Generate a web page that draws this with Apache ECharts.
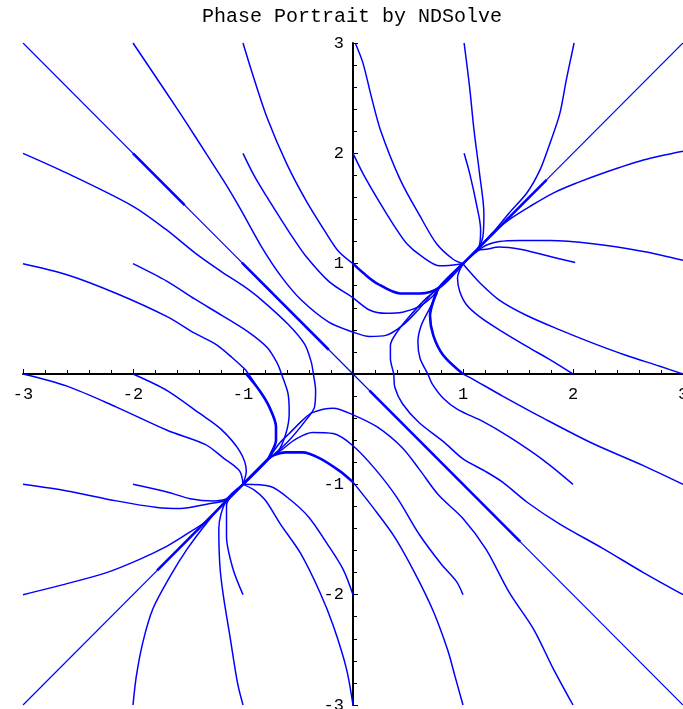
<!DOCTYPE html>
<html>
<head>
<meta charset="utf-8">
<script src="https://cdn.jsdelivr.net/npm/echarts@6/dist/echarts.min.js"></script>
<style>html,body{margin:0;padding:0;background:#fff;}#chart{width:683px;height:709px;}</style>
</head>
<body>
<div id="chart"></div>
<script>
// ---- data (x, y pairs along each trajectory) ----
const titleText = 'Phase Portrait by NDSolve';
const axisTicks = [-3, -2, -1, 0, 1, 2, 3];

// first quadrant trajectories into (1,1)
const c_0_3 = [[0.02,3],[0.09,2.82],[0.17,2.5],[0.25,2.21],[0.43,1.76],[0.61,1.43],[0.76,1.18],[0.91,1.04],[1,1]];
const c_0_2 = [[0,2],[0.1,1.8],[0.245,1.55],[0.37,1.35],[0.49,1.18],[0.62,1.07],[0.79,0.98],[1,1]];
const c_0_1 = [[0,1],[0.1,0.91],[0.22,0.82],[0.43,0.73],[0.61,0.73],[0.78,0.78],[1,1]];
const c_1_3 = [[1.01,3],[1.06,2.6],[1.1,2.21],[1.15,1.82],[1.19,1.45],[1.18,1.24],[1.14,1.14],[1,1]];
const c_1_2 = [[1.01,2],[1.06,1.82],[1.12,1.55],[1.16,1.31],[1.15,1.17],[1,1]];
const c_2_3 = [[2.01,3],[1.94,2.67],[1.88,2.36],[1.79,2.09],[1.7,1.85],[1.58,1.64],[1.42,1.46],[1.27,1.28],[1.14,1.14],[1,1]];
const c_3_3 = [[3,3],[1,1]];
const c_3_2 = [[3,2.02],[2.64,1.94],[2.27,1.82],[2.03,1.73],[1.82,1.64],[1.61,1.52],[1.42,1.4],[1.27,1.28],[1.14,1.14],[1,1]];
const c_3_1 = [[3,1.03],[2.64,1.11],[2.18,1.18],[1.79,1.21],[1.52,1.21],[1.33,1.2],[1.18,1.15],[1,1]];
const c_2_1 = [[2.02,1.01],[1.73,1.08],[1.52,1.13],[1.33,1.15],[1.21,1.13],[1.14,1.12],[1,1]];
const c_3_0 = [[3,0],[2.79,0.07],[2.48,0.17],[2.18,0.28],[1.88,0.4],[1.58,0.53],[1.33,0.67],[1.15,0.83],[1.05,0.94],[1,1]];
const c_2_0 = [[2,0],[1.79,0.13],[1.58,0.25],[1.33,0.4],[1.15,0.52],[1.03,0.63],[0.97,0.75],[0.95,0.87],[1,1]];
const c_1_0 = [[1,0],[0.82,0.17],[0.73,0.35],[0.7,0.53],[0.73,0.66],[0.78,0.78],[1,1]];
const diagUpThick = [[1.76,1.76],[1,1]];

// second quadrant starts
const c_m1_3 = [[-1,3],[-0.92,2.74],[-0.78,2.32],[-0.6,1.9],[-0.42,1.56],[-0.24,1.27],[-0.13,1.11],[0,1]];
const c_m1_2 = [[-1,2],[-0.9,1.8],[-0.78,1.6],[-0.66,1.41],[-0.55,1.24],[-0.43,1.07],[-0.22,0.84],[0,0.69],[0.15,0.58],[0.3,0.55],[0.45,0.56],[0.6,0.61],[0.72,0.7],[0.78,0.78],[1,1]];
const c_m2_3 = [[-2,3],[-1.69,2.54],[-1.51,2.27],[-1.33,1.99],[-1.15,1.71],[-1.02,1.49],[-0.83,1.15],[-0.65,0.88],[-0.47,0.67],[-0.22,0.47],[0,0.38],[0.15,0.34],[0.3,0.35],[0.45,0.44],[0.6,0.59],[0.73,0.74],[0.78,0.78],[1,1]];
const c_m3_2 = [[-3,2],[-2.6,1.82],[-2,1.52],[-1.7,1.31],[-1.44,1.1],[-1.2,0.93],[-1,0.8],[-0.83,0.67],[-0.59,0.45],[-0.44,0.27],[-0.38,0.11],[-0.36,0],[-0.34,-0.15],[-0.35,-0.3],[-0.43,-0.42],[-0.58,-0.6],[-0.73,-0.74],[-0.78,-0.78],[-1,-1]];
const c_m3_1 = [[-3,1],[-2.6,0.9],[-2.15,0.73],[-1.69,0.52],[-1.44,0.37],[-1.25,0.27],[-1.1,0.15],[-0.98,0.04],[-0.95,0],[-0.85,-0.15],[-0.76,-0.3],[-0.7,-0.48],[-0.7,-0.6],[-0.75,-0.73],[-0.78,-0.78],[-1,-1]];
const c_m1_0 = [[-0.97,0],[-0.85,-0.15],[-0.76,-0.3],[-0.7,-0.48],[-0.7,-0.6],[-0.75,-0.73],[-0.78,-0.78],[-1,-1]];
const c_m2_1 = [[-2,1],[-1.69,0.84],[-1.44,0.68],[-1.19,0.53],[-0.95,0.38],[-0.78,0.24],[-0.69,0.1],[-0.65,0],[-0.59,-0.18],[-0.58,-0.36],[-0.61,-0.54],[-0.68,-0.7],[-0.78,-0.78],[-1,-1]];
const antiDiag = [[-3,3],[0,0],[3,-3]];
const antiThickA = [[-2,2],[-1.53,1.53]];
const antiThickB = [[-1.01,1.01],[-0.22,0.22]];
const antiThickC = [[0.15,-0.15],[1.52,-1.52]];

// third quadrant trajectories into (-1,-1)
const c_0_m3 = [[0,-3],[-0.06,-2.67],[-0.18,-2.28],[-0.3,-1.98],[-0.48,-1.62],[-0.66,-1.36],[-0.8,-1.14],[-0.9,-1.05],[-1,-1]];
const c_0_m2 = [[0,-2],[-0.09,-1.77],[-0.24,-1.53],[-0.4,-1.3],[-0.57,-1.14],[-0.75,-1.02],[-1,-1]];
const c_0_m1 = [[0,-0.98],[-0.12,-0.88],[-0.31,-0.76],[-0.46,-0.71],[-0.61,-0.71],[-0.73,-0.74],[-0.78,-0.78],[-1,-1]];
const c_m1_m3 = [[-1,-3],[-1.05,-2.8],[-1.12,-2.37],[-1.18,-2],[-1.21,-1.74],[-1.22,-1.4],[-1.15,-1.14],[-1,-1]];
const c_m1_m2 = [[-1,-2],[-1.09,-1.77],[-1.15,-1.47],[-1.15,-1.19],[-1,-1]];
const c_m2_m3 = [[-2,-3],[-1.97,-2.74],[-1.91,-2.43],[-1.82,-2.13],[-1.66,-1.83],[-1.51,-1.59],[-1.33,-1.35],[-1.15,-1.14],[-1,-1]];
const c_m3_m3 = [[-3,-3],[-1,-1]];
const c_m3_m2 = [[-3,-2],[-2.6,-1.9],[-2.24,-1.8],[-1.94,-1.68],[-1.69,-1.56],[-1.51,-1.45],[-1.33,-1.33],[-1.15,-1.14],[-1,-1]];
const c_m3_m1 = [[-3,-1],[-2.6,-1.06],[-2.15,-1.15],[-1.78,-1.21],[-1.57,-1.22],[-1.33,-1.18],[-1.15,-1.14],[-1,-1]];
const c_m2_m1 = [[-2,-1],[-1.69,-1.07],[-1.48,-1.13],[-1.27,-1.15],[-1.15,-1.13],[-1,-1]];
const c_m3_0 = [[-3,0],[-2.6,-0.11],[-2.15,-0.3],[-1.69,-0.51],[-1.34,-0.64],[-1.18,-0.76],[-1.03,-0.88],[-1,-1]];
const c_m2_0 = [[-2,0],[-1.69,-0.15],[-1.39,-0.36],[-1.2,-0.5],[-1.03,-0.7],[-0.97,-0.88],[-1,-1]];
const diagDownThick = [[-1.78,-1.78],[-1,-1]];

// fourth quadrant starts
const c_1_m3 = [[1,-3],[0.93,-2.75],[0.86,-2.5],[0.73,-2.15],[0.56,-1.8],[0.38,-1.48],[0.19,-1.22],[0,-0.98]];
const c_1_m2 = [[1,-2],[0.94,-1.88],[0.8,-1.72],[0.6,-1.45],[0.4,-1.12],[0.2,-0.86],[0,-0.65],[-0.18,-0.54],[-0.37,-0.53],[-0.52,-0.59],[-0.64,-0.68],[-0.78,-0.78],[-1,-1]];
const c_2_m3 = [[2,-3],[1.82,-2.67],[1.64,-2.31],[1.42,-1.98],[1.21,-1.59],[1,-1.31],[0.78,-1.1],[0.6,-0.86],[0.45,-0.67],[0.22,-0.48],[0,-0.37],[-0.18,-0.31],[-0.37,-0.35],[-0.46,-0.42],[-0.58,-0.54],[-0.67,-0.63],[-0.78,-0.78],[-1,-1]];
const c_3_m2 = [[3,-2],[2.64,-1.8],[2.27,-1.58],[1.88,-1.36],[1.58,-1.16],[1.36,-0.98],[1.2,-0.88],[1,-0.77],[0.83,-0.62],[0.6,-0.44],[0.45,-0.27],[0.38,-0.12],[0.37,0],[0.34,0.14],[0.34,0.26],[0.4,0.38],[0.52,0.53],[0.67,0.69],[0.78,0.78],[1,1]];
const c_3_m1 = [[3,-1],[2.64,-0.83],[2.18,-0.63],[1.73,-0.4],[1.36,-0.2],[1.06,-0.03],[1,0],[0.82,0.17],[0.73,0.35],[0.7,0.53],[0.73,0.66],[0.78,0.78],[1,1]];
const c_2_m1 = [[2,-1],[1.73,-0.78],[1.42,-0.57],[1.18,-0.43],[0.95,-0.32],[0.82,-0.22],[0.72,-0.09],[0.68,0],[0.61,0.14],[0.59,0.29],[0.62,0.44],[0.7,0.6],[0.76,0.72],[0.78,0.78],[1,1]];

// ---- drawing ----
const THIN = 1.2, LINE = 1.5, THICK = 2.6;
const curves = [
  [c_0_3, LINE], [c_0_2, LINE], [c_0_1, THICK], [c_1_3, LINE], [c_1_2, LINE], [c_2_3, LINE],
  [c_3_3, THIN], [c_3_2, LINE], [c_3_1, LINE], [c_2_1, LINE], [c_3_0, LINE], [c_2_0, LINE],
  [c_1_0, THICK], [diagUpThick, THICK],
  [c_m1_3, LINE], [c_m1_2, LINE], [c_m2_3, LINE], [c_m3_2, LINE], [c_m3_1, LINE], [c_m1_0, THICK],
  [c_m2_1, LINE], [antiDiag, THIN], [antiThickA, THICK], [antiThickB, THICK], [antiThickC, THICK],
  [c_0_m3, LINE], [c_0_m2, LINE], [c_0_m1, THICK], [c_m1_m3, LINE], [c_m1_m2, LINE], [c_m2_m3, LINE],
  [c_m3_m3, THIN], [c_m3_m2, LINE], [c_m3_m1, LINE], [c_m2_m1, LINE], [c_m3_0, LINE], [c_m2_0, LINE],
  [diagDownThick, THICK],
  [c_1_m3, LINE], [c_1_m2, LINE], [c_2_m3, LINE], [c_3_m2, LINE], [c_3_m1, LINE], [c_2_m1, LINE]
];

const GRID = {left: 23, top: 43, width: 660, height: 662};
const chart = echarts.init(document.getElementById('chart'), null, {renderer: 'canvas'});
const fontFam = '"Liberation Mono", "DejaVu Sans Mono", monospace';
const labelFmt = v => (v === 0 ? '' : String(v));
function axisCfg(isX) {
  return {
    type: 'value', min: axisTicks[0], max: axisTicks[axisTicks.length - 1], interval: 1,
    position: isX ? 'bottom' : 'left',
    offset: isX ? -GRID.height / 2 : -GRID.width / 2,
    axisLine: {show: true, onZero: false, lineStyle: {color: '#000', width: 2}},
    axisTick: {show: true, inside: true, length: 5, lineStyle: {color: '#000', width: 1}},
    minorTick: {show: true, splitNumber: 5, length: 4, lineStyle: {color: '#000', width: 1}},
    splitLine: {show: false}, minorSplitLine: {show: false},
    axisLabel: {show: true, formatter: labelFmt, color: '#000', fontFamily: fontFam, fontSize: 17,
      margin: isX ? 12 : 9, showMinLabel: true, showMaxLabel: true, hideOverlap: false}
  };
}
chart.setOption({
  animation: false,
  backgroundColor: '#fff',
  grid: {left: GRID.left, top: GRID.top, width: GRID.width, height: GRID.height,
    containLabel: false, outerBoundsMode: 'none'},
  xAxis: axisCfg(true),
  yAxis: axisCfg(false),
  graphic: [{type: 'text', x: 352, y: 17, silent: true,
    style: {text: titleText, font: '20px "Liberation Mono", monospace', fill: '#000',
      textAlign: 'center', textVerticalAlign: 'middle', align: 'center', verticalAlign: 'middle'}}],
  series: curves.map(([pts, w]) => ({
    type: 'line', data: pts, showSymbol: false, symbol: 'none', smooth: 0.3, silent: true,
    lineStyle: {color: '#0000ff', width: w}, z: 2
  }))
});
</script>
</body>
</html>
